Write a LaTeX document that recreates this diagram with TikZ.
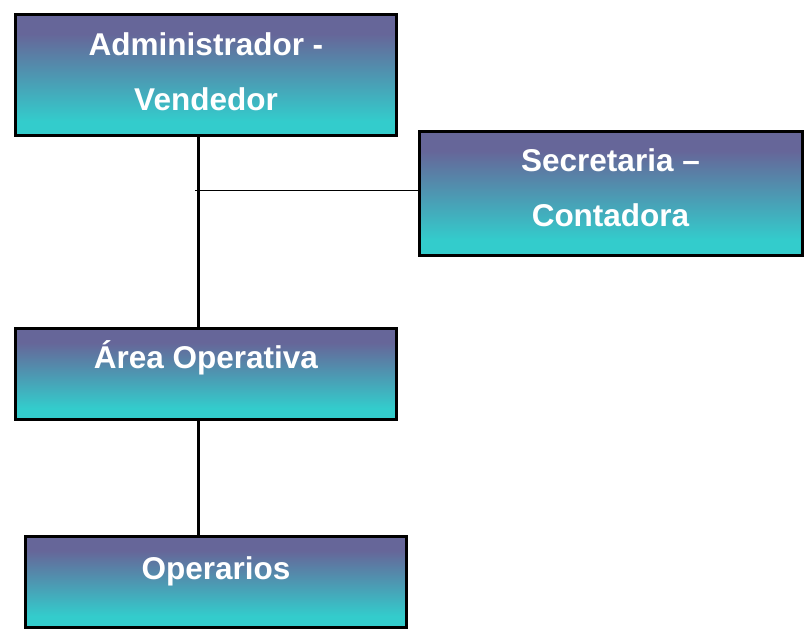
\documentclass[tikz,border=0pt]{standalone}
\usepackage{fontspec}
\setmainfont{Liberation Sans}
\usetikzlibrary{positioning}

\definecolor{boxtop}{HTML}{666699}
\definecolor{boxbot}{HTML}{33CCCC}
\pgfdeclareverticalshading{orgshade}{100bp}{color(0bp)=(boxbot); color(31bp)=(boxbot); color(67bp)=(boxtop); color(100bp)=(boxtop)}

\begin{document}
\begin{tikzpicture}[
x=1pt,
y=-1pt,
orgbox/.style={rectangle, draw=black, line width=3pt, shading=orgshade, minimum width=381pt, inner sep=0pt},
orgtext/.style={text=white, font=\bfseries\fontsize{31.5}{55}\selectfont, anchor=base, inner sep=0pt},
trunkline/.style={line width=3pt},
branchline/.style={line width=1pt},
]
\useasboundingbox (0,0) rectangle (810,630);
% boxes
\node[orgbox, minimum height=121pt] (admin) at (206,75) {};
\node[orgbox, minimum width=383pt, minimum height=124pt] (secre) at (610.5,193) {};
\node[orgbox, minimum height=91pt] (area) at (206,373.5) {};
\node[orgbox, minimum height=91pt] (oper) at (216,581.5) {};
% texts
\node[orgtext] (adminA) at ([yshift=-42pt]admin.north) {Administrador -};
\node[orgtext] (adminB) at ([yshift=-97pt]admin.north) {Vendedor};
\node[orgtext] (secreA) at ([yshift=-42pt]secre.north) {Secretaria –};
\node[orgtext] (secreB) at ([yshift=-97pt]secre.north) {Contadora};
\node[orgtext] (areaA) at ([yshift=-42pt]area.north) {Área Operativa};
\node[orgtext] (operA) at ([yshift=-45pt]oper.north) {Operarios};
% connectors
\coordinate (trunk) at (198,0);
\coordinate (branch) at (195,190);
\draw[trunkline] (admin.south -| trunk) -- (area.north -| trunk);
\draw[trunkline] (area.south -| trunk) -- (oper.north -| trunk);
\draw[branchline] (branch) -- (secre.west |- branch);
\end{tikzpicture}
\end{document}
